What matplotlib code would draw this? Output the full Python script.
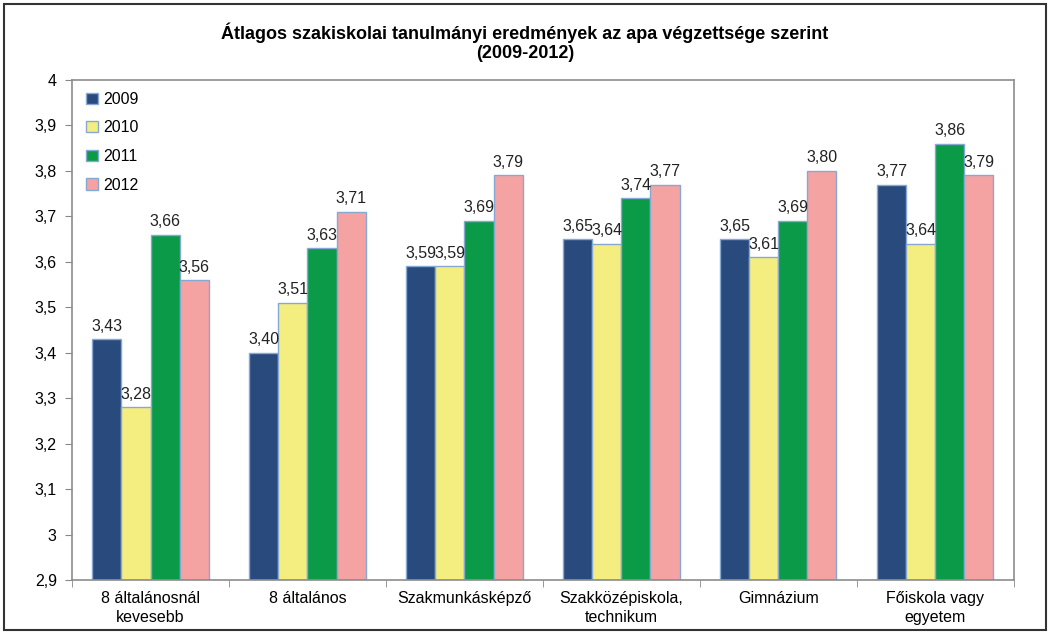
import matplotlib.pyplot as plt
import numpy as np
from matplotlib.patches import Rectangle

plt.rcParams["font.family"] = ["Liberation Sans", "DejaVu Sans"]

CATEGORIES = ["8 általánosnál\nkevesebb", "8 általános", "Szakmunkásképző",
              "Szakközépiskola,\ntechnikum", "Gimnázium", "Főiskola vagy\negyetem"]
YEARS = ["2009", "2010", "2011", "2012"]
V2009 = [3.43, 3.40, 3.59, 3.65, 3.65, 3.77]
V2010 = [3.28, 3.51, 3.59, 3.64, 3.61, 3.64]
V2011 = [3.66, 3.63, 3.69, 3.74, 3.69, 3.86]
V2012 = [3.56, 3.71, 3.79, 3.77, 3.80, 3.79]
SERIES = [V2009, V2010, V2011, V2012]
COLORS = ["#294A7C", "#F4EE80", "#0A9A48", "#F4A2A2"]
EDGE = "#86A8D4"

fig = plt.figure(figsize=(10.5, 6.33), dpi=100)
ax = fig.add_axes([0.0686, 0.0837, 0.897, 0.79])

x = np.arange(len(CATEGORIES))
w = 0.185
for i, (vals, col, yr) in enumerate(zip(SERIES, COLORS, YEARS)):
    pos = x + (i - 1.5) * w
    ax.bar(pos, np.array(vals) - 2.9, bottom=2.9, width=w, color=col,
           edgecolor=EDGE, linewidth=1.0, label=yr)
    for p, v in zip(pos, vals):
        ax.text(p, v + 0.012, f"{v:.2f}".replace(".", ","), ha="center",
                va="bottom", fontsize=11.5, color="#222222")

ax.set_ylim(2.9, 4.0)
ax.set_xlim(-0.5, len(CATEGORIES) - 0.5)
yt = np.round(np.arange(2.9, 4.001, 0.1), 1)
ax.set_yticks(yt)
ax.set_yticklabels([("%g" % t).replace(".", ",") for t in yt], fontsize=11.5)
ax.set_xticks(x)
ax.set_xticklabels(CATEGORIES, fontsize=11.5, linespacing=1.35)
ax.set_xticks(np.arange(-0.5, len(CATEGORIES)), minor=True)
ax.tick_params(axis="x", which="major", length=0, pad=8)
ax.tick_params(axis="x", which="minor", length=5, color="#888888")
ax.tick_params(axis="y", length=5, color="#888888", pad=6)
for s in ax.spines.values():
    s.set_color("#8C8C8C")
    s.set_linewidth(1.2)

ax.legend(loc="upper left", bbox_to_anchor=(0.0, 1.005), frameon=False,
          fontsize=11.5, handlelength=0.7, handleheight=0.7,
          handletextpad=0.35, labelspacing=0.85)

fig.text(0.5, 0.965, "Átlagos szakiskolai tanulmányi eredmények az apa végzettsége szerint\n(2009-2012)",
         ha="center", va="top", fontsize=13, fontweight="bold", linespacing=1.2)

fig.patches.append(Rectangle((0.004, 0.004), 0.992, 0.99, transform=fig.transFigure,
                             fill=False, edgecolor="#333333", linewidth=1.5))

fig.savefig("out.png", dpi=100)
